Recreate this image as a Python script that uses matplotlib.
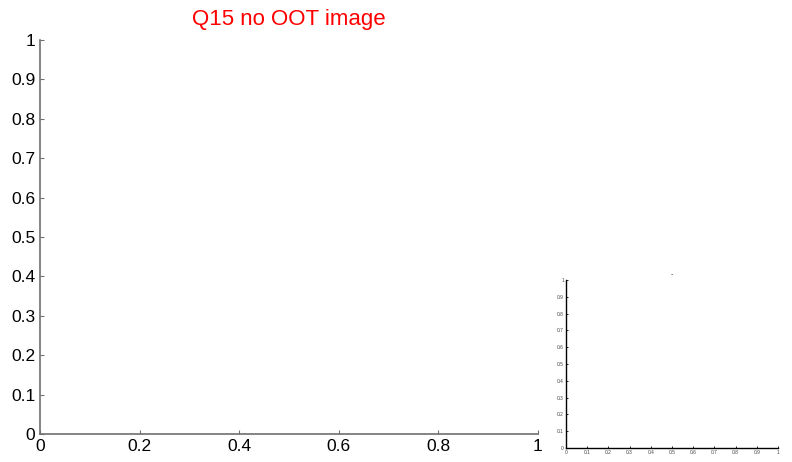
import matplotlib.pyplot as plt
import numpy as np

plt.rcParams['font.family'] = ['Liberation Sans', 'DejaVu Sans']

# empty figure: only axes and ticks
main_xticks = [0, 0.2, 0.4, 0.6, 0.8, 1]
main_yticks = [0, 0.1, 0.2, 0.3, 0.4, 0.5, 0.6, 0.7, 0.8, 0.9, 1]
inset_ticks = [0, 0.1, 0.2, 0.3, 0.4, 0.5, 0.6, 0.7, 0.8, 0.9, 1]
title = 'Q15 no OOT image'

fig = plt.figure(figsize=(7.92, 4.62), dpi=100)

ax = fig.add_axes([40 / 792, 28 / 462, 498 / 792, 394 / 462])
ax.set_xlim(0, 1)
ax.set_ylim(0, 1)
ax.set_xticks(main_xticks)
ax.set_yticks(main_yticks)
ax.set_xticklabels(['%g' % t for t in main_xticks])
ax.set_yticklabels(['%g' % t for t in main_yticks])
for s in ['top', 'right']:
    ax.spines[s].set_visible(False)
for s in ['left', 'bottom']:
    ax.spines[s].set_color('#707070')
    ax.spines[s].set_linewidth(1.2)
ax.tick_params(direction='in', length=3, color='#707070', labelsize=12.5, pad=3.5)
ax.set_title(title, color='red', fontsize=16, pad=11)

# small inset at bottom right
ax2 = fig.add_axes([566 / 792, 14 / 462, 212 / 792, 168 / 462])
ax2.set_xlim(0, 1)
ax2.set_ylim(0, 1)
ax2.set_xticks(inset_ticks)
ax2.set_yticks(inset_ticks)
ax2.set_xticklabels(['%g' % t for t in inset_ticks])
ax2.set_yticklabels(['%g' % t for t in inset_ticks])
for s in ['top', 'right']:
    ax2.spines[s].set_visible(False)
for s in ['left', 'bottom']:
    ax2.spines[s].set_linewidth(1.0)
ax2.tick_params(direction='in', length=1.5, width=0.6, labelsize=3.5, pad=1.5,
                labelcolor='#444444')
ax2.set_title('-', fontsize=5, pad=3, color='#333333')

fig.savefig('out.png', dpi=100)
